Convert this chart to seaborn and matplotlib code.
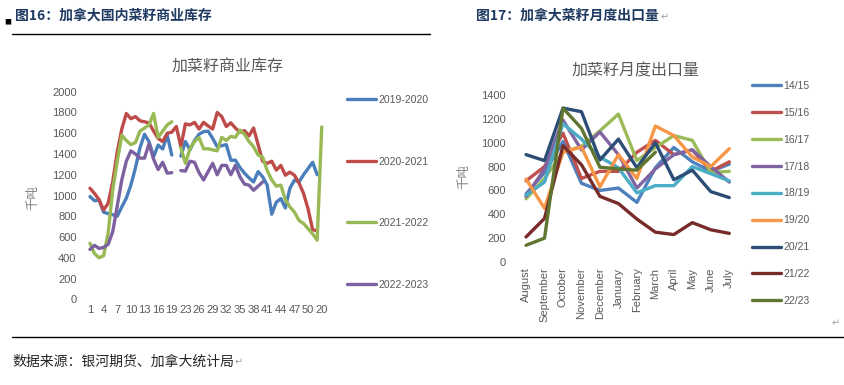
import numpy as np
import pandas as pd
import matplotlib
matplotlib.use("Agg")
import matplotlib.pyplot as plt
import seaborn as sns
from matplotlib.lines import Line2D

nan = np.nan

# ---- 图16: 加拿大国内菜籽商业库存 (千吨) ----
week_labels = [str(i) for i in range(1, 20)] + [str(i) for i in range(21, 53)] + ["20"]
stock_seasons = ["2019-2020", "2020-2021", "2021-2022", "2022-2023"]
stock_1920 = [990, 950, 955, 840, 825, 815, 800, 890, 975, 1100,
              1265, 1460, 1590, 1518, 1374, 1486, 1448, 1583, 1390, nan,
              1380, 1520, 1440, 1530, 1590, 1615, 1620, 1550, 1470, 1480,
              1490, 1340, 1340, 1270, 1215, 1170, 1130, 1230, 1180, 1100,
              820, 935, 970, 880, 1070, 1149, 1130, 1200, 1260, 1320,
              1200, nan]
stock_2021 = [1070, 1020, 960, 860, 925, 1130, 1420, 1640, 1790, 1740,
              1760, 1720, 1710, 1700, 1620, 1550, 1520, 1600, 1610, 1665,
              1470, 1690, 1680, 1705, 1640, 1705, 1670, 1640, 1800, 1760,
              1665, 1700, 1650, 1610, 1625, 1575, 1650, 1490, 1330, 1310,
              1330, 1245, 1290, 1195, 1225, 1195, 1120, 1020, 870, 670,
              660, nan]
stock_2122 = [540, 440, 400, 420, 640, 1050, 1330, 1580, 1530, 1490,
              1510, 1620, 1650, 1680, 1790, 1560, 1620, 1680, 1710, nan,
              1460, 1310, 1450, 1520, 1560, 1450, 1450, 1440, 1430, 1560,
              1530, 1570, 1560, 1630, 1590, 1520, 1470, 1390, 1370, 1240,
              1150, 1090, 1100, 960, 890, 840, 760, 730, 680, 630,
              570, 1660]
stock_2223 = [480, 520, 490, 500, 530, 650, 900, 1150, 1330, 1430,
              1400, 1360, 1360, 1500, 1350, 1250, 1320, 1215, 1220, nan,
              1240, 1235, 1330, 1320, 1220, 1150, 1230, 1310, 1200, 1290,
              1290, 1200, 1290, 1180, 1110, 1100, 1050, 1090, 1130, nan,
              nan, nan, nan, nan, nan, nan, nan, nan, nan, nan,
              nan, nan]
stock_colors = ["#4A7EBB", "#BE4B48", "#98B954", "#7D60A0"]

# ---- 图17: 加拿大菜籽月度出口量 (千吨) ----
months = ["August", "September", "October", "November", "December", "January",
          "February", "March", "April", "May", "June", "July"]
export_seasons = ["14/15", "15/16", "16/17", "17/18", "18/19",
                  "19/20", "20/21", "21/22", "22/23"]
exp_1415 = [570, 750, 1010, 660, 600, 620, 500, 790, 960, 840, 760, 820]
exp_1516 = [680, 800, 1080, 700, 760, 760, 920, 1020, 900, 940, 760, 840]
exp_1617 = [530, 700, 920, 970, 1100, 1240, 850, 960, 1060, 1020, 750, 760]
exp_1718 = [550, 780, 1190, 940, 1090, 900, 620, 780, 900, 940, 800, 670]
exp_1819 = [560, 670, 1160, 1030, 880, 790, 580, 640, 640, 800, 740, 680]
exp_1920 = [695, 450, 920, 965, 630, 900, 700, 1140, 1060, 880, 800, 950]
exp_2021 = [900, 850, 1290, 1260, 855, 1030, 790, 1000, 690, 770, 590, 540]
exp_2122 = [210, 365, 975, 815, 550, 490, 360, 250, 230, 330, 270, 240]
exp_2223 = [140, 200, 1290, 1120, 795, 780, 770, 920, nan, nan, nan, nan]
export_colors = ["#4F81BD", "#C0504D", "#9BBB59", "#8064A2", "#4BACC6",
                 "#F79646", "#2C4D75", "#772C2A", "#5F7530"]


def to_long(names, series, xs):
    # split each series at its gaps so the line breaks there
    rows = []
    for name, vals in zip(names, series):
        seg, gap = 0, True
        for x, v in zip(xs, vals):
            if np.isnan(v):
                gap = True
                continue
            if gap:
                seg += 1
                gap = False
            rows.append({"x": x, "value": v, "season": name, "seg": f"{name}_{seg}"})
    return pd.DataFrame(rows)


sns.set_theme(style="white")
plt.rcParams["font.family"] = ["Liberation Sans", "Noto Sans CJK SC", "DejaVu Sans"]
cjk = ["Noto Sans CJK SC", "DejaVu Sans"]
grey = "#595959"

W, H = 845, 385
fig = plt.figure(figsize=(W / 100, H / 100), dpi=100)


def px_axes(x0, y0, x1, y1):
    return fig.add_axes([x0 / W, 1 - y1 / H, (x1 - x0) / W, (y1 - y0) / H])


def style_axes(ax):
    for s in ax.spines.values():
        s.set_visible(False)
    ax.grid(False)
    ax.tick_params(length=0, labelsize=8, labelcolor=grey)


# left chart
ax1 = px_axes(87.7, 91.7, 324.0, 299.3)
df1 = to_long(stock_seasons, [stock_1920, stock_2021, stock_2122, stock_2223],
              range(len(week_labels)))
sns.lineplot(data=df1, x="x", y="value", hue="season", units="seg", estimator=None,
             sort=False, palette=stock_colors, hue_order=stock_seasons,
             linewidth=2.4, legend=False, ax=ax1)
ax1.set_xlim(-0.5, len(week_labels) - 0.5)
ax1.set_ylim(0, 2000)
ax1.set_yticks(range(0, 2001, 200))
ax1.set_xticks(range(0, len(week_labels), 3))
ax1.set_xticklabels(week_labels[::3])
style_axes(ax1)
ax1.tick_params(axis="y", pad=8)
ax1.tick_params(axis="x", pad=4)
ax1.set_xlabel("")
ax1.set_ylabel("千吨", fontsize=9, color="#7f7f7f", family=cjk)
ax1.yaxis.set_label_coords(-0.205, 0.49)
fig.text(227.5 / W, 1 - 67 / H, "加菜籽商业库存", ha="center", va="center",
         fontsize=11.5, color=grey, family=cjk)

h1 = [Line2D([], [], color=c, lw=2.4) for c in stock_colors]
fig.legend(h1, stock_seasons, loc="upper left", bbox_to_anchor=(347 / W, 1 - 95 / H),
           frameon=False, fontsize=7.5, labelcolor=grey, handlelength=2.8,
           handletextpad=0.2, labelspacing=4.95, borderpad=0, borderaxespad=0)

# right chart
ax2 = px_axes(516.8, 95.0, 738.5, 262.0)
df2 = to_long(export_seasons,
              [exp_1415, exp_1516, exp_1617, exp_1718, exp_1819,
               exp_1920, exp_2021, exp_2122, exp_2223],
              range(len(months)))
sns.lineplot(data=df2, x="x", y="value", hue="season", units="seg", estimator=None,
             sort=False, palette=export_colors, hue_order=export_seasons,
             linewidth=2.4, legend=False, ax=ax2)
ax2.set_xlim(-0.5, len(months) - 0.5)
ax2.set_ylim(0, 1400)
ax2.set_yticks(range(0, 1401, 200))
ax2.set_xticks(range(len(months)))
ax2.set_xticklabels(months, rotation=90, ha="center", va="top")
style_axes(ax2)
ax2.tick_params(axis="y", pad=8)
ax2.tick_params(axis="x", pad=4)
ax2.set_xlabel("")
ax2.set_ylabel("千吨", fontsize=9, color="#7f7f7f", family=cjk)
ax2.yaxis.set_label_coords(-0.21, 0.51)
fig.text(635.8 / W, 1 - 70.5 / H, "加菜籽月度出口量", ha="center", va="center",
         fontsize=11.5, color=grey, family=cjk)

h2 = [Line2D([], [], color=c, lw=2.4) for c in export_colors]
fig.legend(h2, export_seasons, loc="upper left", bbox_to_anchor=(752 / W, 1 - 81 / H),
           frameon=False, fontsize=7.5, labelcolor=grey, handlelength=2.8,
           handletextpad=0.2, labelspacing=1.62, borderpad=0, borderaxespad=0)

# report frame: headings, rules, source
navy = "#1F3A60"
fig.text(4 / W, 1 - 22 / H, "■", fontsize=5, color="black", va="center", family=cjk)
fig.text(15 / W, 1 - 16 / H, "图16：加拿大国内菜籽商业库存", fontsize=10,
         fontweight="bold", color=navy, va="center", family=cjk)
fig.text(476 / W, 1 - 16 / H, "图17：加拿大菜籽月度出口量", fontsize=10,
         fontweight="bold", color=navy, va="center", family=cjk)
fig.text(661 / W, 1 - 17 / H, "↵", fontsize=7, color="#a0a0a0", va="center",
         family=["DejaVu Sans"])
fig.lines.append(Line2D([12 / W, 430 / W], [1 - 34 / H] * 2, color="black", lw=1,
                        transform=fig.transFigure))
fig.text(832 / W, 1 - 323 / H, "↵", fontsize=7, color="#a0a0a0", va="center",
         family=["DejaVu Sans"])
fig.lines.append(Line2D([12 / W, 845 / W], [1 - 337 / H] * 2, color="black", lw=1,
                        transform=fig.transFigure))
fig.text(12 / W, 1 - 362 / H, "数据来源：银河期货、加拿大统计局", fontsize=10,
         color="#262626", va="center", family=cjk)
fig.text(235 / W, 1 - 362 / H, "↵", fontsize=7, color="#a0a0a0", va="center",
         family=["DejaVu Sans"])

fig.savefig("out.png", dpi=100)
